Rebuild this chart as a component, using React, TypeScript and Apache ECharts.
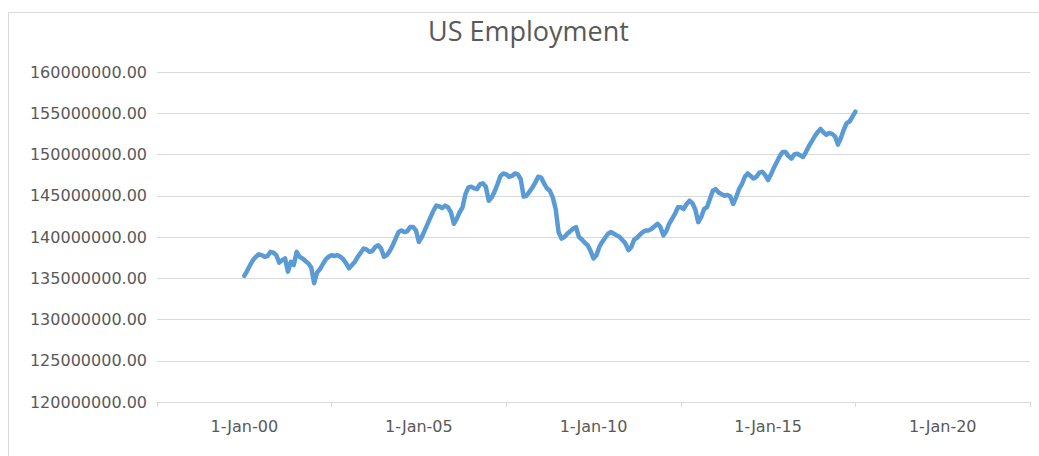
import React, { useEffect, useRef } from "react";
import * as echarts from "echarts";

// Monthly US employment (millions), January .. December of each year
const startYear = 2000;
const emp2000 = [135.3, 135.9, 136.6, 137.2, 137.6, 137.9, 137.8, 137.6, 137.7, 138.2, 138.1, 137.8];
const emp2001 = [136.9, 137.2, 137.4, 135.8, 137.0, 136.6, 138.2, 137.6, 137.4, 137.1, 136.8, 136.3];
const emp2002 = [134.4, 135.7, 136.1, 136.7, 137.3, 137.6, 137.8, 137.7, 137.8, 137.6, 137.3, 136.8];
const emp2003 = [136.2, 136.6, 137.0, 137.6, 138.1, 138.6, 138.5, 138.2, 138.3, 138.8, 139.0, 138.6];
const emp2004 = [137.6, 137.8, 138.3, 139.0, 139.8, 140.6, 140.8, 140.6, 140.7, 141.2, 141.2, 140.8];
const emp2005 = [139.4, 140.0, 140.8, 141.6, 142.4, 143.2, 143.8, 143.7, 143.5, 143.8, 143.6, 143.0];
const emp2006 = [141.6, 142.2, 143.0, 143.6, 145.2, 146.0, 146.1, 145.9, 145.8, 146.4, 146.5, 146.1];
const emp2007 = [144.4, 144.8, 145.5, 146.4, 147.4, 147.7, 147.6, 147.3, 147.4, 147.7, 147.6, 147.0];
const emp2008 = [144.9, 145.0, 145.5, 146.0, 146.6, 147.3, 147.2, 146.5, 145.9, 145.6, 144.8, 143.4];
const emp2009 = [140.6, 139.8, 140.0, 140.4, 140.7, 141.0, 141.2, 140.0, 139.7, 139.3, 139.0, 138.3];
const emp2010 = [137.4, 137.8, 138.8, 139.4, 139.9, 140.4, 140.6, 140.4, 140.2, 140.0, 139.6, 139.2];
const emp2011 = [138.4, 138.8, 139.7, 139.9, 140.3, 140.6, 140.8, 140.8, 141.0, 141.3, 141.6, 141.2];
const emp2012 = [140.2, 140.7, 141.6, 142.2, 142.8, 143.6, 143.6, 143.4, 144.0, 144.4, 144.1, 143.3];
const emp2013 = [141.8, 142.4, 143.4, 143.6, 144.6, 145.6, 145.8, 145.4, 145.2, 145.0, 145.1, 144.9];
const emp2014 = [144.0, 144.8, 145.8, 146.4, 147.3, 147.7, 147.4, 147.1, 147.3, 147.8, 147.9, 147.5];
const emp2015 = [146.9, 147.6, 148.4, 149.1, 149.8, 150.3, 150.3, 149.8, 149.5, 150.0, 150.1, 149.9];
const emp2016 = [149.7, 150.3, 151.0, 151.6, 152.2, 152.7, 153.1, 152.7, 152.4, 152.6, 152.5, 152.2];
const emp2017 = [151.2, 152.0, 153.0, 153.8, 154.0, 154.6, 155.2];

const employmentByYear = [
  emp2000, emp2001, emp2002, emp2003, emp2004, emp2005, emp2006, emp2007, emp2008,
  emp2009, emp2010, emp2011, emp2012, emp2013, emp2014, emp2015, emp2016, emp2017,
];

const xLabelYears = [2000, 2005, 2010, 2015, 2020];
const xTickYears = [1997.5, 2002.5, 2007.5, 2012.5, 2017.5, 2022.5];
const yMin = 120000000;
const yMax = 160000000;
const yStep = 5000000;

const chartTitle = "US Employment";

export default function App() {
  const ref = useRef<HTMLDivElement>(null);

  useEffect(() => {
    if (!ref.current) return;
    const chart = echarts.init(ref.current, undefined, { renderer: "svg" });

    const data: [number, number][] = [];
    employmentByYear.forEach((yearVals, yi) => {
      yearVals.forEach((v, mi) => {
        data.push([startYear + yi + mi / 12, v * 1000000]);
      });
    });

    const labelColor = "#595959";
    const gridColor = "#d9d9d9";

    chart.setOption({
      animation: false,
      backgroundColor: "#ffffff",
      title: {
        text: chartTitle,
        left: 428,
        top: 17,
        padding: 0,
        textStyle: {
          fontFamily: "Open Sans",
          fontSize: 27,
          fontWeight: "normal",
          color: labelColor,
        },
      },
      graphic: [
        {
          type: "rect",
          z: -10,
          shape: { x: 8.5, y: 12.5, width: 1200, height: 600 },
          style: { fill: "none", stroke: gridColor, lineWidth: 1 },
          silent: true,
        },
      ],
      grid: { left: 157, right: 9, top: 72, bottom: 54, containLabel: false },
      xAxis: {
        type: "value",
        min: 1997.5,
        max: 2022.5,
        axisLine: { show: true, lineStyle: { color: gridColor, width: 1 } },
        axisTick: {
          show: true,
          customValues: xTickYears,
          length: 5,
          lineStyle: { color: gridColor },
        },
        splitLine: { show: false },
        axisLabel: {
          customValues: xLabelYears,
          margin: 16,
          color: labelColor,
          fontFamily: "DejaVu Sans",
          fontSize: 16,
          formatter: (v: number) =>
            "1-Jan-" + String(Math.round(v) % 100).padStart(2, "0"),
        },
      },
      yAxis: {
        type: "value",
        min: yMin,
        max: yMax,
        interval: yStep,
        axisLine: { show: false },
        axisTick: { show: false },
        splitLine: { show: true, lineStyle: { color: gridColor, width: 1 } },
        axisLabel: {
          margin: 10,
          color: labelColor,
          fontFamily: "DejaVu Sans",
          fontSize: 16,
          formatter: (v: number) => v.toFixed(2),
        },
      },
      series: [
        {
          type: "line",
          data,
          showSymbol: false,
          symbol: "none",
          lineStyle: { color: "#5b9bd5", width: 4.5, cap: "round", join: "round" },
          itemStyle: { color: "#5b9bd5" },
        },
      ],
    });

    return () => chart.dispose();
  }, []);

  return (
    <div
      ref={ref}
      style={{ position: "absolute", left: 0, top: 0, width: 1039, height: 456 }}
    />
  );
}
